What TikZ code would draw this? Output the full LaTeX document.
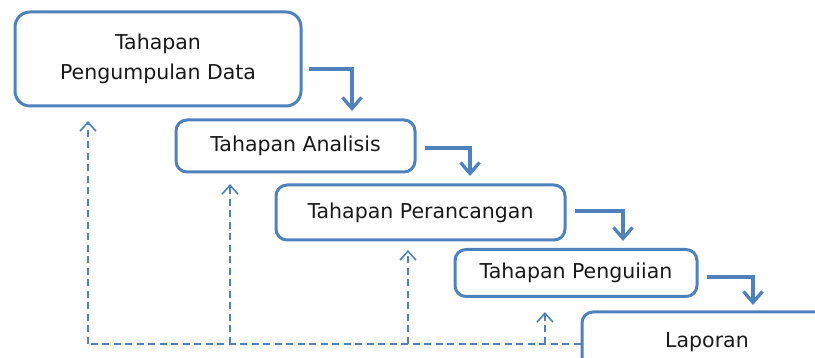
\documentclass[tikz,border=0pt]{standalone}
\usepackage{fontspec}
\setmainfont{DejaVu Sans}
\usetikzlibrary{arrows.meta}
\definecolor{boxblue}{RGB}{79,129,189}
\definecolor{txt}{RGB}{25,25,25}
\begin{document}
\begin{tikzpicture}[x=1pt,y=-1pt,
  stagebox/.style={draw=boxblue, line width=3pt, rounded corners=11pt, inner sep=0pt,
    align=center, text=txt, font=\fontsize{20.5pt}{30pt}\selectfont},
  flow/.style={draw=boxblue, line width=3.3pt, miter limit=10, -{Straight Barb[length=11pt,width=19pt]}},
  feedback/.style={draw=boxblue, line width=1.4pt, dash pattern=on 7pt off 4.5pt,
    -{Straight Barb[length=9pt,width=16pt,line width=1.6pt]}},
  backline/.style={draw=boxblue, line width=1.4pt, dash pattern=on 7pt off 4.5pt}]
\useasboundingbox (0,0) rectangle (815,358);
\clip (0,0) rectangle (815,358);
\node[stagebox, rounded corners=15pt, minimum width=286pt, minimum height=94pt] (b1) at (158,59) {Tahapan\\Pengumpulan Data};
\node[stagebox, minimum width=239pt, minimum height=52pt] (b2) at (295.5,146) {Tahapan Analisis};
\node[stagebox, minimum width=289pt, minimum height=55pt] (b3) at (420.5,212.5) {Tahapan Perancangan};
\node[stagebox, minimum width=242pt, minimum height=47pt] (b4) at (576,273) {Tahapan Penguiian};
\node[stagebox, minimum width=250pt, minimum height=60pt] (b5) at (707,342) {Laporan};
% forward connectors
\coordinate (s1) at (309,69);   \coordinate (e1) at (352,111);
\coordinate (s2) at (425,148);  \coordinate (e2) at (470,176);
\coordinate (s3) at (575,211);  \coordinate (e3) at (623,241);
\coordinate (s4) at (707,277);  \coordinate (e4) at (753,305);
\draw[flow] (s1) -| (e1);
\draw[flow] (s2) -| (e2);
\draw[flow] (s3) -| (e3);
\draw[flow] (s4) -| (e4);
% feedback connectors
\coordinate (c0) at (b5.west |- 0,344);
\coordinate (c1) at (88,344);   \coordinate (t1) at (88,121);
\coordinate (c2) at (230,344);  \coordinate (t2) at (230,184);
\coordinate (c3) at (408,344);  \coordinate (t3) at (408,250);
\coordinate (c4) at (545,344);  \coordinate (t4) at (545,312);
\draw[backline] (c0) -- (c1);
\draw[feedback] (c1) -- (t1);
\draw[feedback] (c2) -- (t2);
\draw[feedback] (c3) -- (t3);
\draw[feedback] (c4) -- (t4);
\end{tikzpicture}
\end{document}
